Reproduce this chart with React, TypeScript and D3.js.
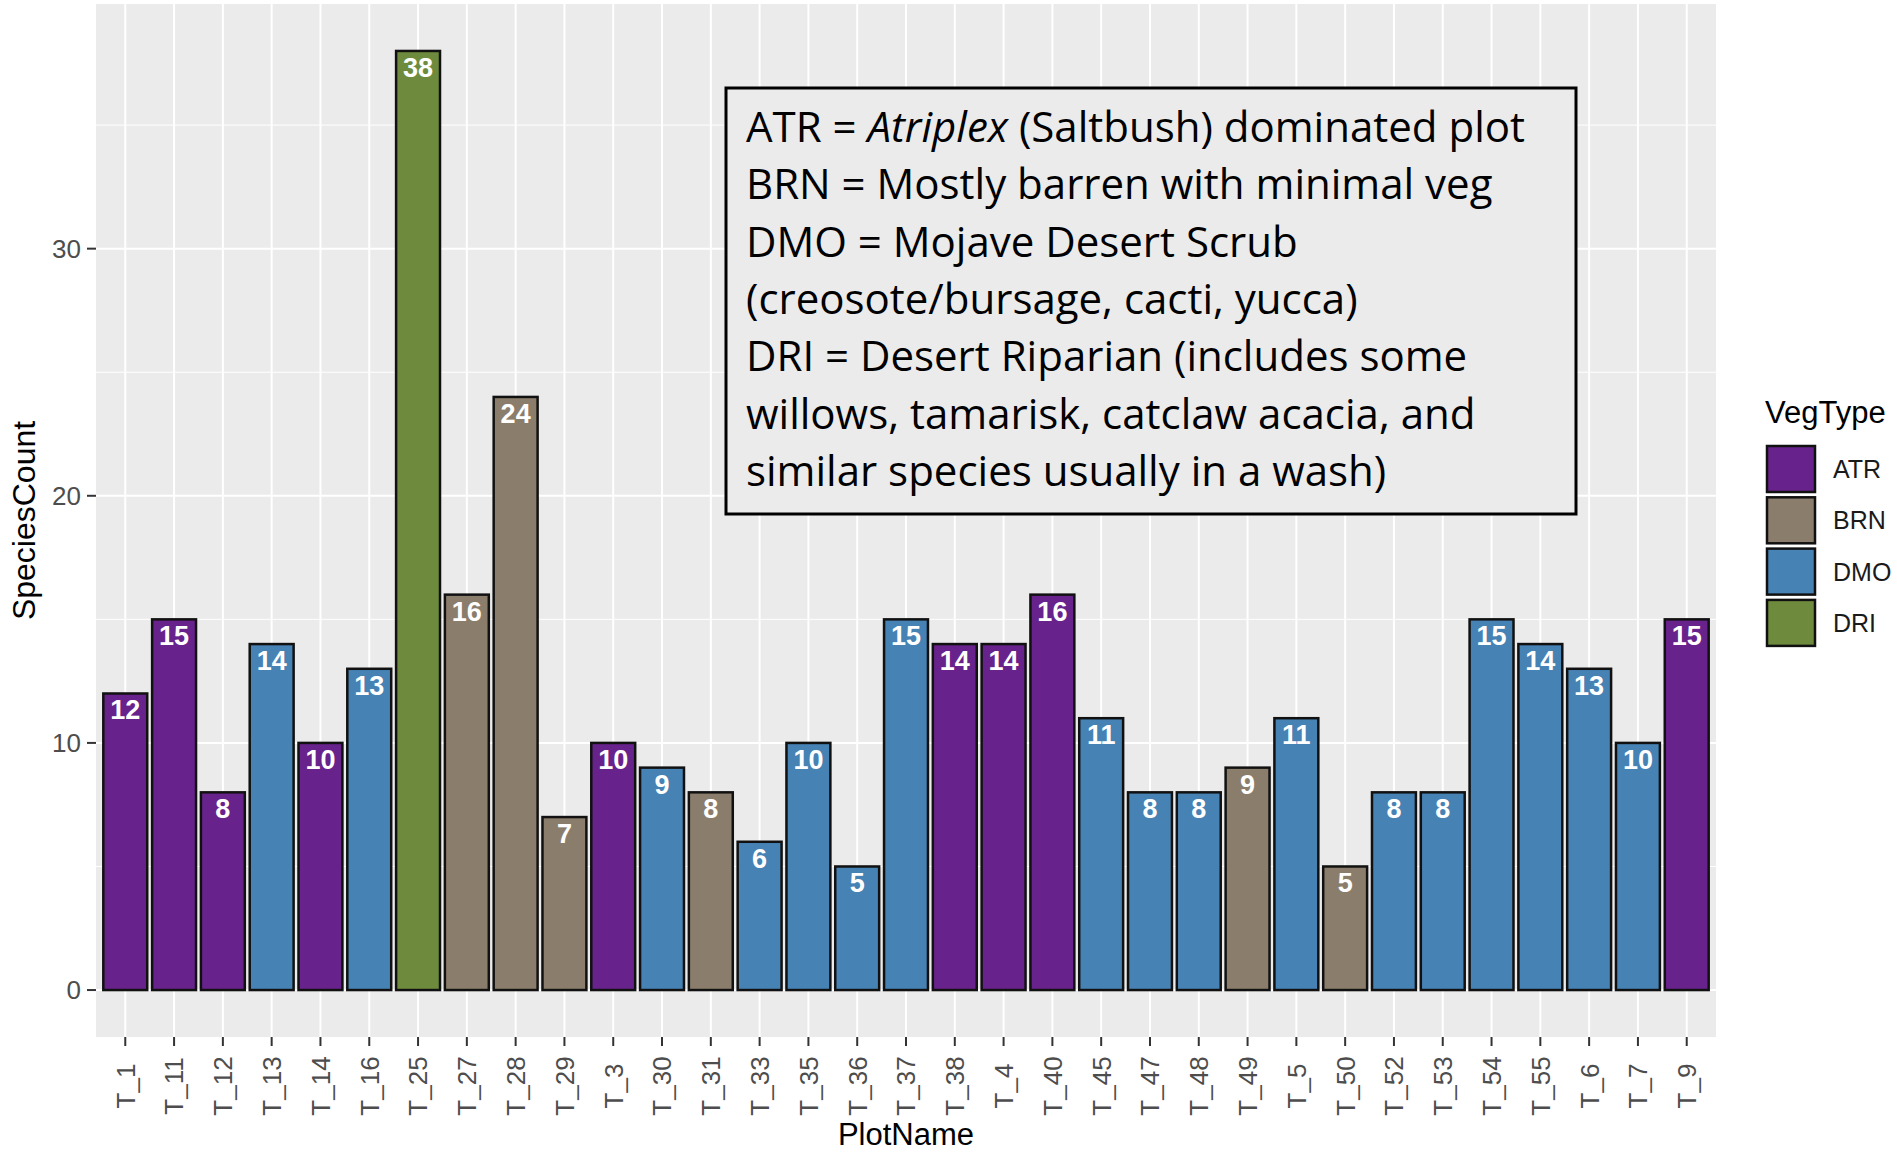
import React, { useEffect, useRef } from "react";
import * as d3 from "d3";

const width = 1897;
const height = 1153;

// panel box in pixels
const panel = { left: 96, right: 1716, top: 4, bottom: 1037 };

const plotNames = [
  "T_1", "T_11", "T_12", "T_13", "T_14", "T_16", "T_25", "T_27", "T_28", "T_29",
  "T_3", "T_30", "T_31", "T_33", "T_35", "T_36", "T_37", "T_38", "T_4", "T_40",
  "T_45", "T_47", "T_48", "T_49", "T_5", "T_50", "T_52", "T_53", "T_54", "T_55",
  "T_6", "T_7", "T_9",
];
const speciesCount = [
  12, 15, 8, 14, 10, 13, 38, 16, 24, 7,
  10, 9, 8, 6, 10, 5, 15, 14, 14, 16,
  11, 8, 8, 9, 11, 5, 8, 8, 15, 14,
  13, 10, 15,
];
const vegType = [
  "ATR", "ATR", "ATR", "DMO", "ATR", "DMO", "DRI", "BRN", "BRN", "BRN",
  "ATR", "DMO", "BRN", "DMO", "DMO", "DMO", "DMO", "ATR", "ATR", "ATR",
  "DMO", "DMO", "DMO", "BRN", "DMO", "BRN", "DMO", "DMO", "DMO", "DMO",
  "DMO", "DMO", "ATR",
];
const vegLevels = ["ATR", "BRN", "DMO", "DRI"];
const vegColors = ["#68228B", "#8B7D6B", "#4682B4", "#6E8B3D"];
const yTicks = [0, 10, 20, 30];
const yMinor = [5, 15, 25, 35];

const noteLines = [
  ["ATR = ", "Atriplex", " (Saltbush) dominated plot"],
  ["BRN = Mostly barren with minimal veg"],
  ["DMO = Mojave Desert Scrub"],
  ["(creosote/bursage, cacti, yucca)"],
  ["DRI = Desert Riparian (includes some"],
  ["willows, tamarisk, catclaw acacia, and"],
  ["similar species usually in a wash)"],
];

export default function App() {
  const ref = useRef<SVGSVGElement>(null);

  useEffect(() => {
    const svg = d3.select(ref.current);
    svg.selectAll("*").remove();

    const data = plotNames.map((p, i) => ({ name: p, count: speciesCount[i], veg: vegType[i] }));

    // ggplot style discrete expansion (0.6 units each side)
    const n = plotNames.length;
    const unit = (panel.right - panel.left) / (n - 1 + 1.2);
    const x = d3.scaleBand().domain(plotNames)
      .range([panel.left + 0.1 * unit, panel.right - 0.1 * unit])
      .paddingInner(0.1).paddingOuter(0.05);
    const xc = (d: string) => (x(d) as number) + x.bandwidth() / 2;

    const ymax = d3.max(speciesCount) as number;
    const y = d3.scaleLinear().domain([-0.05 * ymax, ymax * 1.05]).range([panel.bottom, panel.top]);
    const color = d3.scaleOrdinal<string, string>().domain(vegLevels).range(vegColors);

    // panel
    svg.append("rect")
      .attr("x", panel.left).attr("y", panel.top)
      .attr("width", panel.right - panel.left).attr("height", panel.bottom - panel.top)
      .attr("fill", "#EBEBEB");

    svg.append("g").selectAll("line").data(yMinor).join("line")
      .attr("x1", panel.left).attr("x2", panel.right)
      .attr("y1", d => y(d)).attr("y2", d => y(d))
      .attr("stroke", "#fff").attr("stroke-width", 1);
    svg.append("g").selectAll("line").data(yTicks).join("line")
      .attr("x1", panel.left).attr("x2", panel.right)
      .attr("y1", d => y(d)).attr("y2", d => y(d))
      .attr("stroke", "#fff").attr("stroke-width", 2);
    svg.append("g").selectAll("line").data(plotNames).join("line")
      .attr("x1", d => xc(d)).attr("x2", d => xc(d))
      .attr("y1", panel.top).attr("y2", panel.bottom)
      .attr("stroke", "#fff").attr("stroke-width", 2);

    // bars
    svg.append("g").selectAll("rect").data(data).join("rect")
      .attr("x", d => x(d.name) as number)
      .attr("width", x.bandwidth())
      .attr("y", d => y(d.count))
      .attr("height", d => y(0) - y(d.count))
      .attr("fill", d => color(d.veg))
      .attr("stroke", "#111").attr("stroke-width", 2.5);

    // value labels
    svg.append("g").selectAll("text").data(data).join("text")
      .attr("x", d => xc(d.name))
      .attr("y", d => y(d.count) + 26)
      .attr("text-anchor", "middle")
      .attr("fill", "#fff")
      .style("font", "bold 27px 'Liberation Sans', Arial, sans-serif")
      .text(d => d.count);

    // y axis
    const yAxis = svg.append("g");
    yAxis.selectAll("line").data(yTicks).join("line")
      .attr("x1", panel.left - 9).attr("x2", panel.left)
      .attr("y1", d => y(d)).attr("y2", d => y(d))
      .attr("stroke", "#333").attr("stroke-width", 2);
    yAxis.selectAll("text").data(yTicks).join("text")
      .attr("x", panel.left - 15).attr("y", d => y(d))
      .attr("dy", "0.36em")
      .attr("text-anchor", "end")
      .attr("fill", "#4D4D4D")
      .style("font", "26px 'Liberation Sans', Arial, sans-serif")
      .text(d => d);

    // x axis
    const xAxis = svg.append("g");
    xAxis.selectAll("line").data(plotNames).join("line")
      .attr("x1", d => xc(d)).attr("x2", d => xc(d))
      .attr("y1", panel.bottom).attr("y2", panel.bottom + 9)
      .attr("stroke", "#333").attr("stroke-width", 2);
    xAxis.selectAll("text").data(plotNames).join("text")
      .attr("transform", d => `translate(${xc(d)},${panel.bottom + 49}) rotate(-90)`)
      .attr("dy", "0.36em")
      .attr("text-anchor", "middle")
      .attr("fill", "#4D4D4D")
      .style("font", "26px 'Liberation Sans', Arial, sans-serif")
      .text(d => d);

    // axis titles
    svg.append("text")
      .attr("x", (panel.left + panel.right) / 2).attr("y", 1145)
      .attr("text-anchor", "middle")
      .style("font", "31px 'Liberation Sans', Arial, sans-serif")
      .text("PlotName");
    svg.append("text")
      .attr("transform", `translate(35,${(panel.top + panel.bottom) / 2}) rotate(-90)`)
      .attr("text-anchor", "middle")
      .style("font", "32px 'Liberation Sans', Arial, sans-serif")
      .text("SpeciesCount");

    // legend
    const legend = svg.append("g").attr("transform", "translate(1766,445)");
    legend.append("text")
      .attr("x", -1).attr("y", -22)
      .style("font", "31px 'Liberation Sans', Arial, sans-serif")
      .text("VegType");
    const item = legend.selectAll("g").data(vegLevels).join("g")
      .attr("transform", (d, i) => `translate(0,${i * 51.3})`);
    item.append("rect")
      .attr("x", 1).attr("y", 1).attr("width", 48).attr("height", 46)
      .attr("fill", d => color(d))
      .attr("stroke", "#111").attr("stroke-width", 2.5);
    item.append("text")
      .attr("x", 67).attr("y", 24).attr("dy", "0.36em")
      .attr("fill", "#1a1a1a")
      .style("font", "25px 'Liberation Sans', Arial, sans-serif")
      .text(d => d);

    // note box
    svg.append("rect")
      .attr("x", 726).attr("y", 88).attr("width", 850).attr("height", 426)
      .attr("fill", "#EBEBEB")
      .attr("stroke", "#000").attr("stroke-width", 3);
    const note = svg.append("text")
      .attr("fill", "#000")
      .style("font", "42px 'Open Sans', sans-serif");
    noteLines.forEach((parts, i) => {
      const t = note.append("tspan").attr("x", 746).attr("y", 142 + i * 57.3);
      parts.forEach((p, j) => {
        const s = j === 0 ? t : note.append("tspan");
        if (j === 0) s.text(p);
        else s.text(p).style("font-style", p === "Atriplex" ? "italic" : "normal");
      });
    });
  }, []);

  return (
    <svg ref={ref} width={width} height={height}
      style={{ position: "absolute", left: 0, top: 0, background: "#fff" }} />
  );
}
